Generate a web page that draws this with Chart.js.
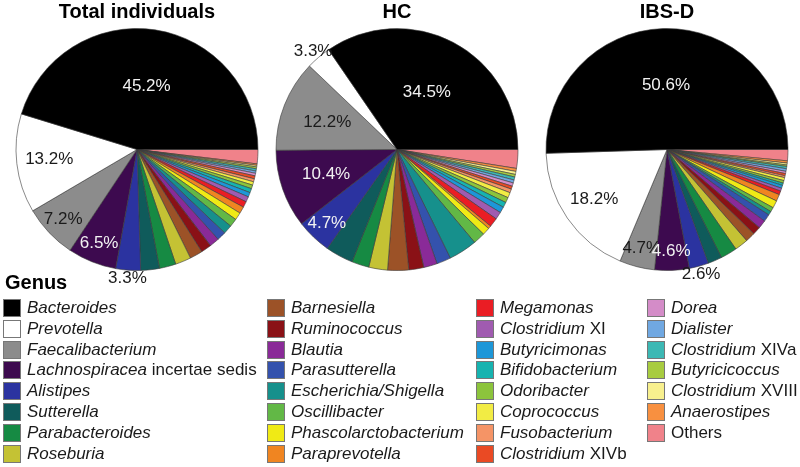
<!DOCTYPE html>
<html>
<head>
<meta charset="utf-8">
<script src="https://cdn.jsdelivr.net/npm/chart.js@4"></script>
<style>
  body { margin: 0; background: #fff; font-family: "Liberation Sans", Arial, sans-serif; }
  #wrap { position: relative; width: 800px; height: 467px; overflow: hidden; }
  .pie { position: absolute; top: 0; }
  #legend { position: absolute; left: 0; top: 270px; width: 800px; }
  #legend .head { position: absolute; left: 5px; top: 0; font-weight: bold; font-size: 20px; line-height: 24px; color: #000; }
  .item { position: absolute; height: 18px; font-size: 17px; line-height: 18px; color: #1a1a1a; white-space: nowrap; }
  .item .box { position: absolute; left: 0; top: 0; width: 16px; height: 16px; border: 1px solid #777; }
  .item .txt { position: absolute; left: 24px; top: 0; }
  .item i { font-style: italic; }
</style>
</head>
<body>
<div id="wrap">
  <canvas id="pieTotal" class="pie" width="270" height="300" style="left:2px"></canvas>
  <canvas id="pieHC" class="pie" width="270" height="300" style="left:262px"></canvas>
  <canvas id="pieIBS" class="pie" width="270" height="300" style="left:532px"></canvas>
  <div id="legend"><div class="head">Genus</div></div>
</div>
<script>
// === Dados ===
const pieTitles = ["Total individuals", "HC", "IBS-D"];

// nome do gênero (itálico) + sufixo (normal)
const genusNames = [
  "Bacteroides", "Prevotella", "Faecalibacterium", "Lachnospiracea", "Alistipes",
  "Sutterella", "Parabacteroides", "Roseburia",
  "Barnesiella", "Ruminococcus", "Blautia", "Parasutterella", "Escherichia/Shigella",
  "Oscillibacter", "Phascolarctobacterium", "Paraprevotella",
  "Megamonas", "Clostridium", "Butyricimonas", "Bifidobacterium", "Odoribacter",
  "Coprococcus", "Fusobacterium", "Clostridium",
  "Dorea", "Dialister", "Clostridium", "Butyricicoccus", "Clostridium", "Anaerostipes", ""
];
const genusSuffix = [
  "", "", "", " incertae sedis", "",
  "", "", "",
  "", "", "", "", "",
  "", "", "",
  "", " XI", "", "", "",
  "", "", " XIVb",
  "", "", " XIVa", "", " XVIII", "", "Others"
];
const genusColors = [
  "#000000", "#ffffff", "#8c8c8c", "#3d0a4f", "#2b33a0",
  "#0f5b5b", "#168a43", "#c4c234",
  "#9c5227", "#8a1116", "#8a2a98", "#3452ad", "#16908c",
  "#62b846", "#f0ea15", "#f08521",
  "#ea1d24", "#a05bb0", "#1d97d8", "#16b3b0", "#8cc43c",
  "#f2ec44", "#f59466", "#ea4a24",
  "#d48cc8", "#70a8e2", "#3cb8b4", "#a8cc40", "#f8f08e", "#f89040", "#f0828a"
];

// valores (%)
const totalValues = [
  45.2, 13.2, 7.2, 6.5, 3.3,
  2.5, 2.2, 2.1,
  1.7, 1.4, 1.3, 1.2, 1.2, 1.1, 1.0, 0.9,
  0.8, 0.7, 0.6, 0.55, 0.5, 0.45, 0.4, 0.4,
  0.35, 0.3, 0.3, 0.25, 0.2, 0.2, 1.9
];
const hcValues = [
  34.5, 3.3, 12.2, 10.4, 4.7,
  3.7, 2.3, 2.5,
  2.8, 2.0, 1.8, 1.9, 3.8, 1.6, 1.0, 0.4,
  1.2, 1.0, 0.8, 0.7, 0.7, 0.7, 0.5, 0.4,
  0.45, 0.4, 0.4, 0.35, 0.4, 0.4, 2.5
];
const ibsValues = [
  50.6, 18.2, 4.7, 4.6, 2.6,
  1.9, 2.2, 1.8,
  1.3, 1.1, 1.1, 1.0, 0.5, 0.6, 1.0, 0.9,
  0.5, 0.4, 0.4, 0.3, 0.35, 0.4, 0.25, 0.3,
  0.3, 0.35, 0.3, 0.2, 0.25, 0.3, 1.5
];

const labelCount = 5; // só os 5 primeiros gêneros têm rótulo

// === Funções auxiliares ===
function luminance(hex) {
  const n = parseInt(hex.slice(1), 16);
  const r = (n >> 16) & 255, g = (n >> 8) & 255, b = n & 255;
  return (0.299 * r + 0.587 * g + 0.114 * b) / 255;
}

// raio do rótulo em função do tamanho da fatia
function labelRadius(v) {
  if (v >= 30) return 0.53;
  if (v >= 13) return 0.73;
  if (v >= 10) return 0.62;
  if (v >= 4) return 0.84;
  return 1.07;
}

const pctLabels = {
  id: "pctLabels",
  afterDatasetsDraw(chart) {
    const ctx = chart.ctx;
    const meta = chart.getDatasetMeta(0);
    const n = genusNames.length;
    ctx.save();
    ctx.font = "17px 'Liberation Sans', Arial, sans-serif";
    ctx.textAlign = "center";
    ctx.textBaseline = "middle";
    for (let k = 0; k < labelCount; k++) {
      const idx = n - 1 - k; // dados invertidos
      const arc = meta.data[idx];
      const p = arc.getProps(["x", "y", "startAngle", "endAngle", "outerRadius"], true);
      const value = chart.data.datasets[0].data[idx];
      const mid = (p.startAngle + p.endAngle) / 2;
      const f = labelRadius(value);
      const x = p.x + Math.cos(mid) * p.outerRadius * f;
      const y = p.y + Math.sin(mid) * p.outerRadius * f;
      const dark = luminance(genusColors[k]) < 0.4 && f < 1;
      ctx.fillStyle = dark ? "#f2f2f2" : "#1a1a1a";
      ctx.fillText(value.toFixed(1) + "%", x, y);
    }
    ctx.restore();
  }
};

function makePie(canvasId, title, values) {
  const ctx = document.getElementById(canvasId).getContext("2d");
  // invertido: começa em 3h e anda no sentido horário, assim Bacteroides fica anti-horário
  return new Chart(ctx, {
    type: "pie",
    data: {
      labels: genusNames.map((g, i) => (g + genusSuffix[i]).trim()).reverse(),
      datasets: [{
        data: values.slice().reverse(),
        backgroundColor: genusColors.slice().reverse(),
        borderColor: "#3a3a3a",
        borderWidth: 0.6
      }]
    },
    options: {
      responsive: false,
      animation: false,
      rotation: 90,
      radius: 121,
      layout: { padding: { top: 0, bottom: 29, left: 0, right: 0 } },
      plugins: {
        legend: { display: false },
        tooltip: { enabled: false },
        title: {
          display: true,
          text: title,
          color: "#000",
          font: { family: "'Liberation Sans', Arial, sans-serif", size: 20, weight: "bold" },
          padding: { top: 0, bottom: 4 }
        }
      }
    },
    plugins: [pctLabels]
  });
}

makePie("pieTotal", pieTitles[0], totalValues);
makePie("pieHC", pieTitles[1], hcValues);
makePie("pieIBS", pieTitles[2], ibsValues);

// === Legenda ===
const legend = document.getElementById("legend");
const colX = [3, 267, 476, 647];
const rowsPerCol = 8;
genusNames.forEach((g, i) => {
  const col = Math.floor(i / rowsPerCol);
  const row = i % rowsPerCol;
  const item = document.createElement("div");
  item.className = "item";
  item.style.left = colX[col] + "px";
  item.style.top = (29 + row * 20.8) + "px";
  const box = document.createElement("span");
  box.className = "box";
  box.style.background = genusColors[i];
  const txt = document.createElement("span");
  txt.className = "txt";
  txt.innerHTML = (g ? "<i>" + g + "</i>" : "") + genusSuffix[i];
  item.appendChild(box);
  item.appendChild(txt);
  legend.appendChild(item);
});
</script>
</body>
</html>
